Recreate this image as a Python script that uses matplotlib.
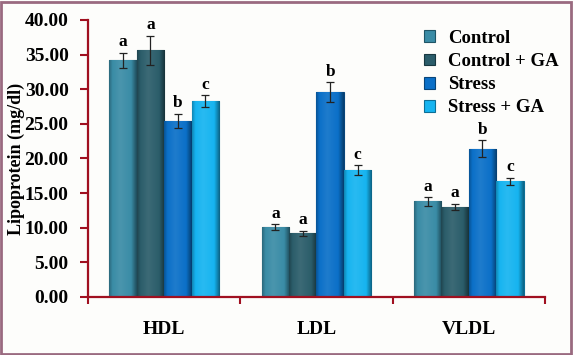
import matplotlib.pyplot as plt
from matplotlib.patches import Rectangle
from matplotlib.colors import LinearSegmentedColormap, to_rgb
import numpy as np

categories = ['HDL', 'LDL', 'VLDL']
groups = ['Control', 'Control + GA', 'Stress', 'Stress + GA']
values = [
    [34.2, 10.1, 13.8],   # Control
    [35.6, 9.2, 13.0],    # Control + GA
    [25.4, 29.6, 21.4],   # Stress
    [28.3, 18.3, 16.7],   # Stress + GA
]
errors = [
    [1.1, 0.4, 0.6],
    [2.1, 0.4, 0.5],
    [1.0, 1.4, 1.2],
    [0.8, 0.7, 0.5],
]
letters = [
    ['a', 'a', 'a'],
    ['a', 'a', 'a'],
    ['b', 'b', 'b'],
    ['c', 'c', 'c'],
]
colors = ['#3a8ca6', '#2b5d6a', '#0b70c8', '#16b4f0']
edges = ['#1f5566', '#183840', '#08457a', '#0d6f96']

plt.rcParams['font.family'] = ['Liberation Serif', 'DejaVu Serif']
plt.rcParams['font.weight'] = 'bold'


def shade(c, f):
    r = np.array(to_rgb(c))
    if f < 1:
        return tuple(r * f)
    return tuple(r + (1 - r) * (f - 1))


fig = plt.figure(figsize=(5.73, 3.55), dpi=100)
fig.patch.set_facecolor('#fdfdfb')
# outer frame
fig.add_artist(Rectangle((0.002, 0.003), 0.995, 0.992, transform=fig.transFigure,
                         fill=False, ec='#9a6a80', lw=2.0))

ax = fig.add_axes([0.1536, 0.1634, 0.7974, 0.7803])
ax.set_facecolor('none')

x = np.arange(len(categories))
w = 0.18
grad = np.linspace(0, 1, 64).reshape(1, -1)
for j in range(len(groups)):
    pos = x + (j - 1.5) * w
    bars = ax.bar(pos, values[j], width=w, color=colors[j], edgecolor=edges[j], linewidth=0.8,
                  label=groups[j], zorder=2)
    # cylinder-like shading inside each bar
    cmap = LinearSegmentedColormap.from_list(
        'c%d' % j, [(0, shade(colors[j], 0.75)), (0.12, colors[j]), (0.4, shade(colors[j], 1.08)),
                    (0.8, colors[j]), (1, shade(colors[j], 0.55))])
    for b in bars:
        im = ax.imshow(grad, cmap=cmap, aspect='auto', zorder=2.1,
                       extent=(b.get_x(), b.get_x() + b.get_width(), 0, b.get_height()))
        im.set_clip_path(b)
    ax.errorbar(pos, values[j], yerr=errors[j], fmt='none', ecolor='#222222',
                elinewidth=0.9, capsize=3, capthick=0.9, zorder=3)
    for k in range(len(categories)):
        ax.text(pos[k], values[j][k] + errors[j][k] + 0.4, letters[j][k],
                ha='center', va='bottom', fontsize=12.5, fontweight='bold')

ax.set_ylim(0, 40)
ax.set_xlim(-0.5, 2.5)
ax.set_yticks(np.arange(0, 40.1, 5))
ax.set_yticklabels([f'{v:.2f}' for v in np.arange(0, 40.1, 5)], fontsize=14, fontweight='bold')
ax.set_xticks([-0.5, 0.5, 1.5, 2.5])
ax.set_xticklabels([])
ax.set_xticks(x, minor=True)
ax.set_xticklabels(categories, minor=True, fontsize=14, fontweight='bold')
ax.tick_params(axis='x', which='minor', length=0, pad=17)
ax.tick_params(axis='x', which='major', length=5, color='#a01020', width=1.5, direction='out')
ax.tick_params(axis='y', length=6, color='#a01020', width=1.5, direction='out', pad=8)

for s in ['top', 'right']:
    ax.spines[s].set_visible(False)
for s in ['left', 'bottom']:
    ax.spines[s].set_color('#a01020')
    ax.spines[s].set_linewidth(1.6)

ax.set_ylabel('Lipoprotein (mg/dl)', fontsize=13, fontweight='bold')
ax.yaxis.set_label_coords(-0.137, 0.5)

ax.legend(loc='upper right', bbox_to_anchor=(1.068, 1.025), frameon=False,
          handlelength=0.6, handleheight=0.6, handletextpad=0.7, labelspacing=0.33,
          prop={'weight': 'bold', 'size': 13.5})

fig.savefig('out.png', dpi=100, facecolor=fig.get_facecolor())
